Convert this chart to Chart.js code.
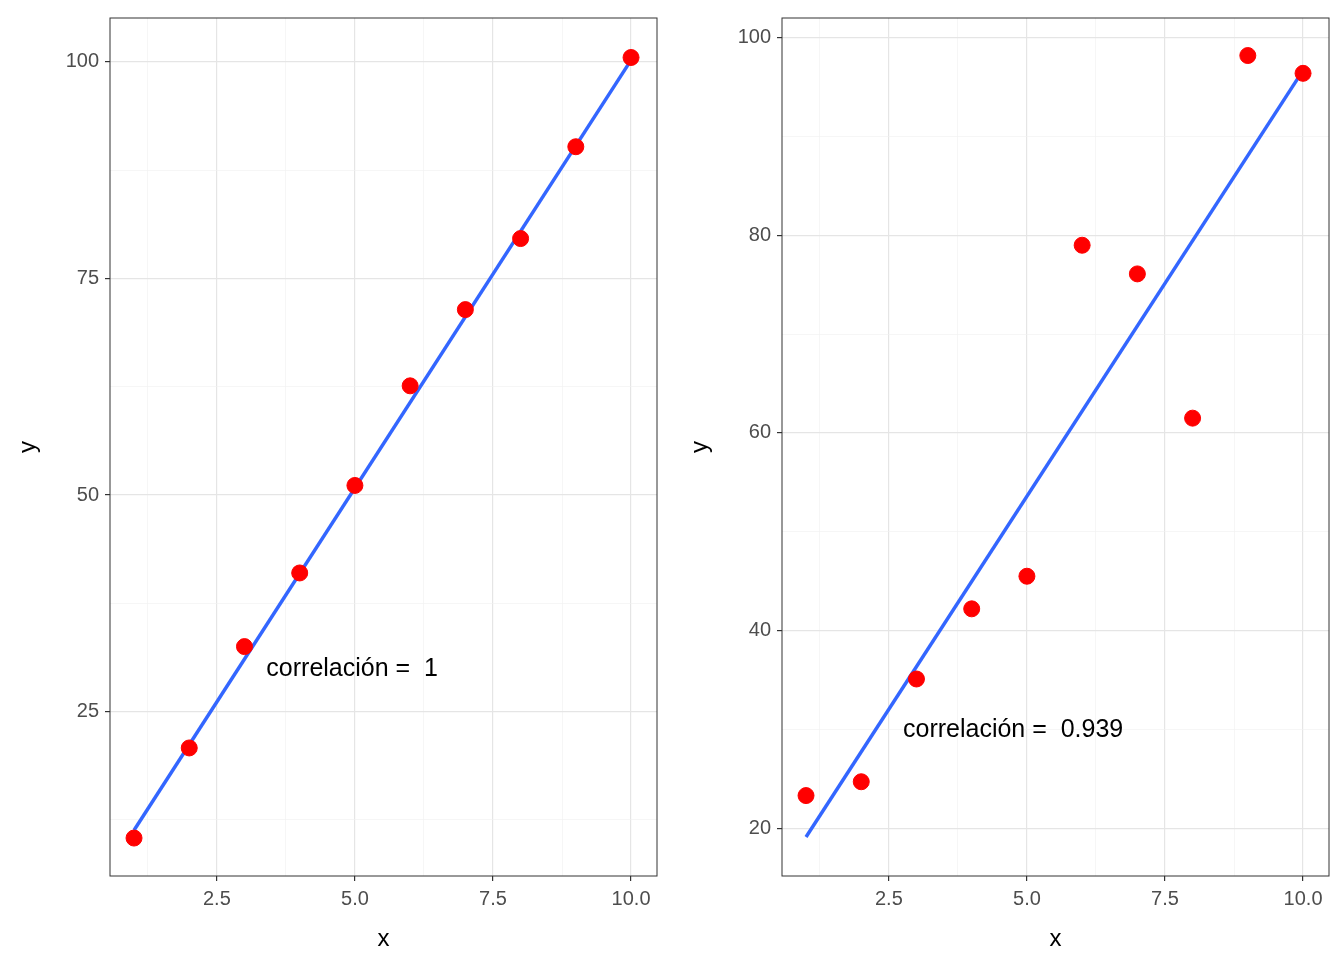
<!DOCTYPE html>
<html>
<head>
<meta charset="utf-8">
<script src="https://cdn.jsdelivr.net/npm/chart.js@4"></script>
<style>
  body { margin: 0; background: #fff; }
  .panel { position: absolute; top: 0; width: 672px; height: 960px; }
</style>
</head>
<body>
<div class="panel" style="left:0"><canvas id="c1"></canvas></div>
<div class="panel" style="left:672px"><canvas id="c2"></canvas></div>
<script>
// data
var xs = [1, 2, 3, 4, 5, 6, 7, 8, 9, 10];
var yLeft = [10.4, 20.8, 32.5, 41.0, 51.1, 62.6, 71.4, 79.6, 90.2, 100.5];
var yRight = [23.3, 24.7, 35.1, 42.2, 45.5, 79.0, 76.1, 61.5, 98.2, 96.4];
var fitLeft = [11.3, 100.2];
var fitRight = [19.1, 96.7];
var xTicks = [2.5, 5.0, 7.5, 10.0];
var yTicksLeft = [25, 50, 75, 100];
var yTicksRight = [20, 40, 60, 80, 100];
var corrLeft = 'correlación =  1';
var corrRight = 'correlación =  0.939';

function tickList(majors, step, min, max) {
  var out = [];
  var start = majors[0] - step * Math.ceil((majors[0] - min) / step);
  for (var v = start; v <= max + 1e-9; v += step / 2) {
    if (v < min - 1e-9) continue;
    var isMajor = majors.some(function(m) { return Math.abs(m - v) < 1e-6; });
    out.push({ value: +v.toFixed(4), major: isMajor });
  }
  return out;
}

var frame = {
  id: 'frame',
  afterDraw: function(chart) {
    var a = chart.chartArea, c = chart.ctx;
    c.save();
    c.strokeStyle = '#333';
    c.lineWidth = 1;
    c.strokeRect(a.left, a.top, a.right - a.left, a.bottom - a.top);
    var o = chart.options.plugins.corr;
    c.fillStyle = '#000';
    c.font = '25px "Liberation Sans", Arial, sans-serif';
    c.textAlign = 'center';
    c.textBaseline = 'middle';
    c.fillText(o.text, chart.scales.x.getPixelForValue(o.x), chart.scales.y.getPixelForValue(o.y));
    c.restore();
  }
};

function makeChart(id, ys, fit, yMajors, yStep, ymin, ymax, corr) {
  var tickFont = { family: '"Liberation Sans", Arial, sans-serif', size: 20 };
  var titleFont = { family: '"Liberation Sans", Arial, sans-serif', size: 24 };
  var gridColor = function(ctx) { return ctx.tick && ctx.tick.major ? '#e5e5e5' : '#f0f0f0'; };
  var gridWidth = function(ctx) { return ctx.tick && ctx.tick.major ? 1.2 : 0.6; };
  var tickColor = function(ctx) { return ctx.tick && ctx.tick.major ? '#333' : 'rgba(0,0,0,0)'; };
  new Chart(document.getElementById(id), {
    type: 'scatter',
    data: {
      datasets: [{
        data: xs.map(function(x, i) { return { x: x, y: ys[i] }; }),
        backgroundColor: '#ff0000', borderColor: '#ff0000',
        pointRadius: 8, pointHoverRadius: 8
      }, {
        type: 'line',
        data: [{ x: xs[0], y: fit[0] }, { x: xs[xs.length - 1], y: fit[1] }],
        borderColor: '#3366ff', borderWidth: 3.5, pointRadius: 0, fill: false
      }]
    },
    options: {
      responsive: false, animation: false,
      layout: { padding: { top: 15, right: 15, left: 0, bottom: 0 } },
      plugins: { legend: { display: false }, tooltip: { enabled: false },
                 corr: corr },
      scales: {
        x: {
          type: 'linear', min: 0.565, max: 10.47,
          afterBuildTicks: function(s) { s.ticks = tickList(xTicks, 2.5, s.min, s.max); },
          afterFit: function(s) { s.height = 84; },
          ticks: { font: tickFont, color: '#4d4d4d', padding: 6, maxRotation: 0, autoSkip: false,
                   callback: function(v, i, t) { return t[i].major ? v.toFixed(1) : ''; } },
          grid: { color: gridColor, lineWidth: gridWidth, tickColor: tickColor, tickLength: 5, drawTicks: true },
          border: { display: false },
          title: { display: true, text: 'x', font: titleFont, color: '#000', padding: { top: 0, bottom: 6 } }
        },
        y: {
          type: 'linear', min: ymin, max: ymax,
          afterBuildTicks: function(s) { s.ticks = tickList(yMajors, yStep, s.min, s.max); },
          afterFit: function(s) { s.width = 110; },
          ticks: { font: tickFont, color: '#4d4d4d', padding: 6, autoSkip: false,
                   callback: function(v, i, t) { return t[i].major ? String(v) : ''; } },
          grid: { color: gridColor, lineWidth: gridWidth, tickColor: tickColor, tickLength: 5, drawTicks: true },
          border: { display: false },
          title: { display: true, text: 'y', font: titleFont, color: '#000', padding: { top: 14, bottom: 4 } }
        }
      }
    },
    plugins: [frame]
  });
}

document.getElementById('c1').width = 672; document.getElementById('c1').height = 960;
document.getElementById('c2').width = 672; document.getElementById('c2').height = 960;
makeChart('c1', yLeft, fitLeft, yTicksLeft, 25, 6.02, 105.06, { text: corrLeft, x: 4.95, y: 29.9 });
makeChart('c2', yRight, fitRight, yTicksRight, 20, 15.16, 102.0, { text: corrRight, x: 4.75, y: 29.9 });
</script>
</body>
</html>
